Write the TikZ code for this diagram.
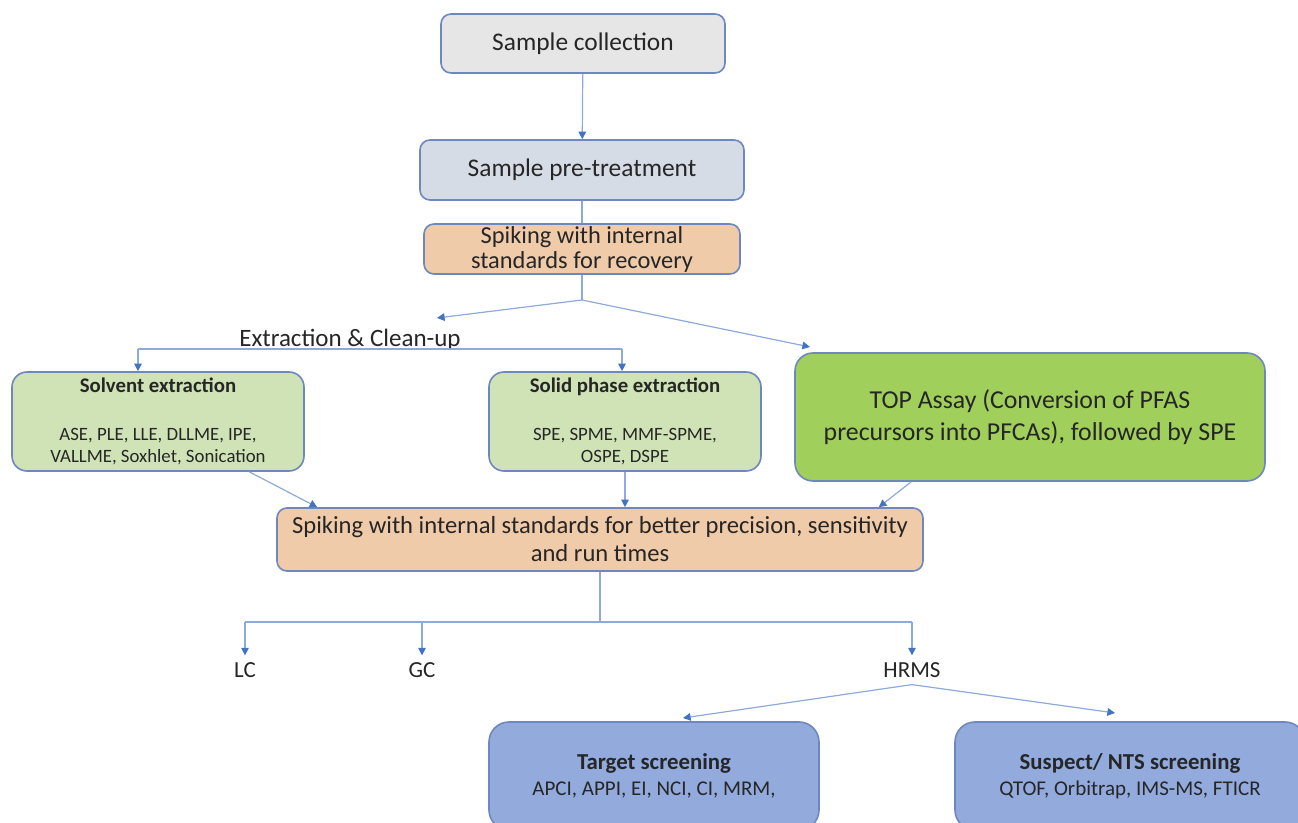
\documentclass[tikz,border=0pt]{standalone}
\usepackage{fontspec}
\setmainfont{Carlito}
\usepackage{tikz}
\usetikzlibrary{positioning}
\usetikzlibrary{calc}
\usetikzlibrary{arrows.meta}
\pgfdeclarelayer{flowbg}
\pgfsetlayers{flowbg,main}
\definecolor{boxline}{HTML}{6F87BF}
\definecolor{linkblue}{HTML}{8EA9DB}
\definecolor{tipblue}{HTML}{4472C4}
\definecolor{textgrey}{HTML}{262626}
\definecolor{greyfill}{HTML}{E7E6E6}
\definecolor{paleblue}{HTML}{D6DCE5}
\definecolor{peach}{HTML}{F0CBA9}
\definecolor{palegreen}{HTML}{D0E3B7}
\definecolor{topgreen}{HTML}{A0CF5C}
\definecolor{bluefill}{HTML}{93AADD}
\newcommand{\boxtitle}[2]{{\fontsize{#1}{11}\selectfont\bfseries #2}}

\begin{document}
\begin{tikzpicture}[x=0.5pt,y=-0.5pt,
	stepbox/.style={draw=boxline, line width=0.8pt, rounded corners=5pt, align=center, text=textgrey, inner sep=0pt},
	link/.style={draw=linkblue, line width=0.6pt},
	flow/.style={link, -{Triangle[length=3.8pt,width=3.8pt,color=tipblue]}},
	bigtext/.style={font=\fontsize{12.7}{15}\selectfont},
	smalltext/.style={font=\fontsize{9.4}{11}\selectfont}]
	\useasboundingbox (0,0) rectangle (1298,823);
	\clip (0,0) rectangle (1298,823);
	
	% Sample handling
	\node [stepbox, bigtext, fill=greyfill, minimum width=142pt, minimum height=29.5pt] at (583,43.5) (collect) {Sample collection};
	\node [stepbox, bigtext, fill=paleblue, minimum width=162pt, minimum height=30pt] at (582,170) (pretreat) {Sample pre-treatment};
	\node [stepbox, fill=peach, font=\fontsize{12.2}{12.5}\selectfont, minimum width=158pt, minimum height=25pt] at (582,249) (spikerec) {Spiking with internal\\standards for recovery};
	\coordinate (split1) at (582,300);
	\coordinate (extip) at (437,318);
	\coordinate (toptip) at (810,347);
	
	% Extraction
	\node [anchor=base, text=textgrey, font=\fontsize{12.5}{13}\selectfont] at (350,347) (exlabel) {Extraction \& Clean-up};
	\coordinate (exl) at (138,349);
	\coordinate (exr) at (622,349);
	\node [stepbox, smalltext, fill=palegreen, rounded corners=7.5pt, minimum width=146pt, minimum height=49.5pt] at (158,421.5) (solvent) {\boxtitle{10.4}{Solvent extraction}\\[13pt]ASE, PLE, LLE, DLLME, IPE,\\VALLME, Soxhlet, Sonication};
	\node [stepbox, smalltext, fill=palegreen, rounded corners=7.5pt, minimum width=136pt, minimum height=49.5pt] at (625,421.5) (solid) {\boxtitle{10.4}{Solid phase extraction}\\[13pt]SPE, SPME, MMF-SPME,\\OSPE, DSPE};
	\node [stepbox, fill=topgreen, rounded corners=9pt, font=\fontsize{12.9}{16}\selectfont, minimum width=235pt, minimum height=64pt] at (1030,417) (topassay) {TOP Assay (Conversion of PFAS\\precursors into PFCAs), followed by SPE};
	\node [stepbox, fill=peach, font=\fontsize{12.3}{14}\selectfont, minimum width=323pt, minimum height=31.5pt] at (600,539.5) (spikeprec) {Spiking with internal standards for better precision, sensitivity\\and run times};
	
	% Instruments
	\coordinate (bus2) at (600,622);
	\node [text=textgrey, font=\fontsize{11.5}{13}\selectfont] at (245,670) (lc) {LC};
	\node [text=textgrey, font=\fontsize{11.5}{13}\selectfont] at (422,670) (gc) {GC};
	\node [text=textgrey, font=\fontsize{11.5}{13}\selectfont] at (912,670) (hrms) {HRMS};
	\coordinate (ttip) at (683,718);
	\coordinate (stip) at (1115,713);
	\node [stepbox, fill=bluefill, rounded corners=10pt, font=\fontsize{10.5}{13}\selectfont, minimum width=165pt, minimum height=54pt] at (654,776) (target) {\boxtitle{11.4}{Target screening}\\APCI, APPI, EI, NCI, CI, MRM,};
	\node [stepbox, fill=bluefill, rounded corners=10pt, font=\fontsize{10.5}{13}\selectfont, minimum width=175pt, minimum height=54pt] at (1130,776) (suspect) {\boxtitle{11.4}{Suspect/ NTS screening}\\QTOF, Orbitrap, IMS-MS, FTICR};
	
	% Connections
	\draw [flow] (collect) -- (pretreat);
	\begin{pgfonlayer}{flowbg}
		\draw [link] (pretreat.south) -- (split1);
	\end{pgfonlayer}
	\draw [flow] (split1) -- (extip);
	\draw [flow] (split1) -- (toptip);
	\draw [link] (exl) -- (exr);
	\draw [flow] (exl) -- (exl |- solvent.north);
	\draw [flow] (exr) -- (exr |- solid.north);
	\draw [flow] ($(solvent.south west)+(238,0)$) -- ($(spikeprec.north west)+(41,0)$);
	\draw [flow] (solid.south) -- (solid.south |- spikeprec.north);
	\draw [flow] ($(topassay.south west)+(117,0)$) -- ($(spikeprec.north east)+(-45,0)$);
	\draw [link] (spikeprec.south) -- (bus2);
	\draw [link] (lc |- bus2) -- (hrms |- bus2);
	\foreach \inst in {lc,gc,hrms}
		\draw [flow] (\inst |- bus2) -- (\inst);
	\draw [flow] (hrms.south) -- (ttip);
	\draw [flow] (hrms.south) -- (stip);
	
\end{tikzpicture}
\end{document}
